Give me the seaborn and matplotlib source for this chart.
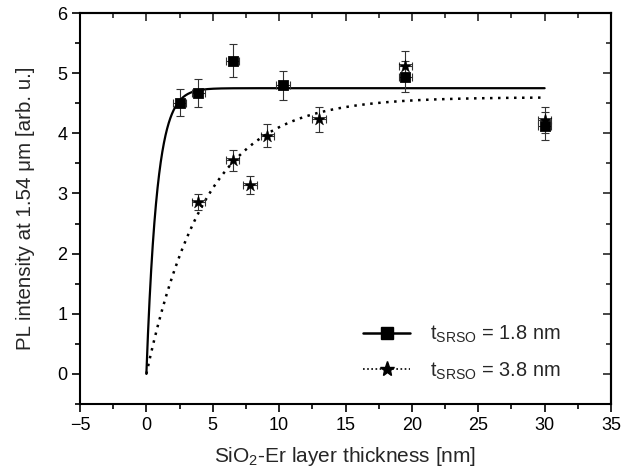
import numpy as np
import pandas as pd
import matplotlib
matplotlib.use("Agg")
import matplotlib.pyplot as plt
from matplotlib.lines import Line2D
from matplotlib.ticker import MultipleLocator
import seaborn as sns

# Measured PL intensity, t_SRSO = 1.8 nm (squares)
thick_a = [2.5, 3.9, 6.5, 10.3, 19.5, 30.0]
pl_a = [4.51, 4.67, 5.21, 4.80, 4.94, 4.12]
pl_a_err = [0.23, 0.23, 0.27, 0.24, 0.26, 0.23]

# Measured PL intensity, t_SRSO = 3.8 nm (stars)
thick_b = [3.9, 6.5, 7.8, 9.1, 13.0, 19.5, 30.0]
pl_b = [2.86, 3.55, 3.14, 3.96, 4.23, 5.12, 4.22]
pl_b_err = [0.13, 0.17, 0.15, 0.19, 0.20, 0.24, 0.22]

thick_err = 0.5

# Saturating-exponential fits: amplitude, characteristic thickness
fit_a = (4.75, 0.8)
fit_b = (4.60, 4.5)

legend_labels = [r"t$_\mathrm{SRSO}$ = 1.8 nm", r"t$_\mathrm{SRSO}$ = 3.8 nm"]

sns.set_theme(style="white")
plt.rcParams["font.family"] = ["Liberation Sans", "DejaVu Sans"]
plt.rcParams["mathtext.fontset"] = "custom"
plt.rcParams["mathtext.rm"] = "Liberation Sans"
plt.rcParams["mathtext.it"] = "Liberation Sans:italic"

W, H = 624, 472
fig = plt.figure(figsize=(W / 100, H / 100), dpi=100)
ax = fig.add_axes([80 / W, 1 - 404 / H, (611 - 80) / W, (404 - 13) / H])

x_fit = np.linspace(0, 30, 500)
fit_df = pd.DataFrame({
    "x": np.concatenate([x_fit, x_fit]),
    "y": np.concatenate([fit_a[0] * (1 - np.exp(-x_fit / fit_a[1])),
                         fit_b[0] * (1 - np.exp(-x_fit / fit_b[1]))]),
    "series": ["a"] * len(x_fit) + ["b"] * len(x_fit),
})
sns.lineplot(data=fit_df[fit_df.series == "a"], x="x", y="y", ax=ax,
             color="black", lw=1.6, legend=False)
sns.lineplot(data=fit_df[fit_df.series == "b"], x="x", y="y", ax=ax,
             color="black", lw=1.8, ls=(0, (1, 2.2)), legend=False)

err_kw = dict(fmt="none", ecolor="#333333", elinewidth=0.8, capsize=3,
              capthick=0.8, zorder=3)
ax.errorbar(thick_a, pl_a, yerr=pl_a_err, xerr=thick_err, **err_kw)
ax.errorbar(thick_b, pl_b, yerr=pl_b_err, xerr=thick_err, **err_kw)

sns.scatterplot(x=thick_a, y=pl_a, ax=ax, marker="s", s=50, color="black",
                edgecolor="black", zorder=4)
sns.scatterplot(x=thick_b, y=pl_b, ax=ax, marker="*", s=95, color="black",
                edgecolor="black", linewidth=0.3, zorder=4)

ax.set_xlim(-5, 35)
ax.set_ylim(-0.5, 6)
ax.xaxis.set_major_locator(MultipleLocator(5))
ax.xaxis.set_minor_locator(MultipleLocator(2.5))
ax.yaxis.set_major_locator(MultipleLocator(1))
ax.yaxis.set_minor_locator(MultipleLocator(0.5))

for s in ax.spines.values():
    s.set_color("black")
    s.set_linewidth(1.5)

ax.tick_params(which="both", direction="out", color="black", width=1.2,
               labelsize=13, labelcolor="black", bottom=True, left=True,
               pad=3)
ax.tick_params(which="major", length=6)
ax.tick_params(which="minor", length=3.5)

# mirrored inward ticks on top and right
sec_x = ax.secondary_xaxis("top")
sec_x.xaxis.set_major_locator(MultipleLocator(5))
sec_x.xaxis.set_minor_locator(MultipleLocator(2.5))
sec_x.tick_params(which="both", direction="in", width=1.2, labeltop=False)
sec_x.tick_params(which="major", length=6)
sec_x.tick_params(which="minor", length=3.5)
sec_y = ax.secondary_yaxis("right")
sec_y.yaxis.set_major_locator(MultipleLocator(1))
sec_y.yaxis.set_minor_locator(MultipleLocator(0.5))
sec_y.tick_params(which="both", direction="in", width=1.2, labelright=False)
sec_y.tick_params(which="major", length=6)
sec_y.tick_params(which="minor", length=3.5)
for sec in (sec_x, sec_y):
    for s in sec.spines.values():
        s.set_linewidth(1.5)

ax.set_xlabel(r"SiO$_2$-Er layer thickness [nm]", fontsize=15, labelpad=8)
ax.set_ylabel("PL intensity at 1.54 μm [arb. u.]", fontsize=14.8, labelpad=16)

handles = [
    Line2D([], [], color="black", lw=1.8, marker="s", markersize=8),
    Line2D([], [], color="black", lw=1.2, ls=(0, (1, 1.5)), marker="*",
           markersize=11),
]
ax.legend(handles, legend_labels, loc="upper left", frameon=False,
          fontsize=14.4, handlelength=2.35, handletextpad=1.0,
          labelspacing=0.75, borderpad=0, borderaxespad=0,
          bbox_to_anchor=(363 / W, 1 - 324 / H),
          bbox_transform=fig.transFigure)

fig.savefig("out.png", dpi=100)
